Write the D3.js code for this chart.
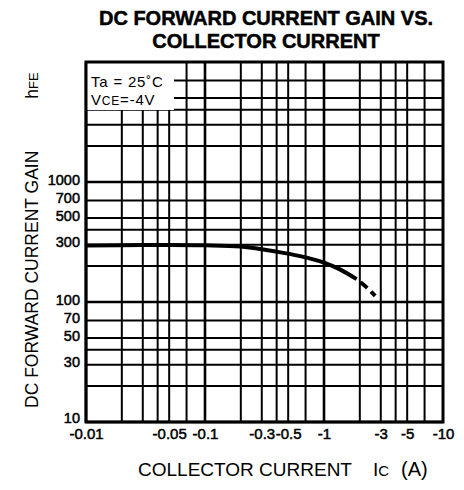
<!DOCTYPE html>
<html>
<head>
<meta charset="utf-8">
<script src="https://d3js.org/d3.v7.min.js"></script>
<style>
    body { margin: 0; background: #fff; }
    text { font-family: "Liberation Sans", Arial, Helvetica, sans-serif; fill: #000; }
</style>
</head>
<body>
<div id="my_dataviz"></div>
<script>
// Collector current (A, magnitude) and DC current gain
const icSolid = [0.01, 0.03, 0.1, 0.2, 0.4, 0.63, 1.0, 1.36, 1.88];
const hfeSolid = [295, 298, 297, 290, 263, 241, 213, 187, 155];
const icDashed = [1.88, 2.27, 2.75];
const hfeDashed = [155, 133, 110];

// Tick labels
const xTicks = [0.01, 0.05, 0.1, 0.3, 0.5, 1, 3, 5, 10];
const xTickLabels = ["-0.01", "-0.05", "-0.1", "-0.3", "-0.5", "-1", "-3", "-5", "-10"];
const yTicks = [10, 30, 50, 70, 100, 300, 500, 700, 1000];
const yTickLabels = ["10", "30", "50", "70", "100", "300", "500", "700", "1000"];

// Grid lines at 1,2,3,4,5,7 in every decade
const gridSteps = [1, 2, 3, 4, 5, 7];
const xDecades = [0.01, 0.1, 1];
const yDecades = [10, 100, 1000];

const width = 464, height = 490;
const plot = {left: 86, right: 443, top: 62, bottom: 422};

const svg = d3.select("#my_dataviz").append("svg")
    .attr("width", width)
    .attr("height", height);

// Log scales on both axes
const x = d3.scaleLog()
    .domain([0.01, 10])
    .range([plot.left, plot.right]);
const y = d3.scaleLog()
    .domain([10, 10000])
    .range([plot.bottom, plot.top]);

const xGrid = [];
xDecades.forEach(d => gridSteps.forEach(s => xGrid.push(d * s)));
const yGrid = [];
yDecades.forEach(d => gridSteps.forEach(s => yGrid.push(d * s)));

// Grid
svg.append("g").selectAll("line")
    .data(xGrid)
    .join("line")
        .attr("x1", d => x(d)).attr("x2", d => x(d))
        .attr("y1", plot.top).attr("y2", plot.bottom)
        .attr("stroke", "#000")
        .attr("stroke-width", (d, i) => i % 6 === 0 ? 2.6 : 2);

svg.append("g").selectAll("line")
    .data(yGrid)
    .join("line")
        .attr("x1", plot.left).attr("x2", plot.right)
        .attr("y1", d => y(d)).attr("y2", d => y(d))
        .attr("stroke", "#000")
        .attr("stroke-width", (d, i) => i % 6 === 0 ? 2.6 : 2);

// Condition box (hides the grid behind it)
svg.append("rect")
    .attr("x", plot.left).attr("y", plot.top)
    .attr("width", 88).attr("height", 48)
    .attr("fill", "#fff");

const cond = svg.append("g")
    .attr("font-size", 15)
    .attr("letter-spacing", 0.8);
cond.append("text")
    .attr("x", plot.left + 5).attr("y", 87)
    .text("Ta = 25\u02daC");
const vce = cond.append("text")
    .attr("x", plot.left + 5).attr("y", 105);
vce.append("tspan").text("V");
vce.append("tspan").attr("font-size", 12).text("CE");
vce.append("tspan").text("=-4V");

// Curve
const line = d3.line()
    .x(d => x(d[0]))
    .y(d => y(d[1]))
    .curve(d3.curveCatmullRom.alpha(0.5));

svg.append("path")
    .datum(d3.zip(icSolid, hfeSolid))
    .attr("fill", "none")
    .attr("stroke", "#000")
    .attr("stroke-width", 4)
    .attr("d", line);

svg.append("path")
    .datum(d3.zip(icDashed, hfeDashed))
    .attr("fill", "none")
    .attr("stroke", "#000")
    .attr("stroke-width", 4)
    .attr("stroke-dasharray", "0 5 9 5 6 100")
    .attr("d", line);

// Frame
svg.append("rect")
    .attr("x", plot.left).attr("y", plot.top)
    .attr("width", plot.right - plot.left)
    .attr("height", plot.bottom - plot.top)
    .attr("fill", "none")
    .attr("stroke", "#000")
    .attr("stroke-width", 3);

// Axes (labels only)
const xAxis = svg.append("g")
    .attr("transform", "translate(0," + plot.bottom + ")")
    .call(d3.axisBottom(x)
        .tickValues(xTicks)
        .tickFormat((d, i) => xTickLabels[i])
        .tickSize(0)
        .tickPadding(6));
xAxis.select(".domain").remove();
xAxis.selectAll("text")
    .attr("font-size", 15)
    .attr("font-family", "Liberation Sans, Arial, sans-serif")
    .attr("stroke", "#000").attr("stroke-width", 0.5);

const yAxis = svg.append("g")
    .attr("transform", "translate(" + plot.left + ",0)")
    .call(d3.axisLeft(y)
        .tickValues(yTicks)
        .tickFormat((d, i) => yTickLabels[i])
        .tickSize(0)
        .tickPadding(6));
yAxis.select(".domain").remove();
yAxis.selectAll("text")
    .attr("dy", (d, i) => i === 0 ? "0.05em" : "0.15em")
    .attr("font-size", 14.5)
    .attr("font-family", "Liberation Sans, Arial, sans-serif")
    .attr("stroke", "#000").attr("stroke-width", 0.5);

// Title
const title = svg.append("g")
    .attr("font-size", 20)
    .attr("font-weight", "bold")
    .attr("text-anchor", "middle")
    .attr("stroke", "#000").attr("stroke-width", 0.5);
title.append("text").attr("x", 266).attr("y", 25).text("DC FORWARD CURRENT GAIN VS.");
title.append("text").attr("x", 266).attr("y", 48).text("COLLECTOR CURRENT");

// Axis titles
const xTitle = svg.append("text")
    .attr("x", 138).attr("y", 476)
    .attr("font-size", 19);
xTitle.append("tspan").text("COLLECTOR CURRENT");
xTitle.append("tspan").attr("dx", 21).text("I");
xTitle.append("tspan").attr("font-size", 15).text("C");
xTitle.append("tspan").attr("font-size", 20).attr("dx", 12).text("(A)");

const yTitle = svg.append("text")
    .attr("transform", "translate(38,408) rotate(-90)")
    .attr("font-size", 17.5);
yTitle.append("tspan").text("DC FORWARD CURRENT GAIN");
yTitle.append("tspan").attr("dx", 52).text("h");
yTitle.append("tspan").attr("font-size", 13).text("FE");
</script>
</body>
</html>
